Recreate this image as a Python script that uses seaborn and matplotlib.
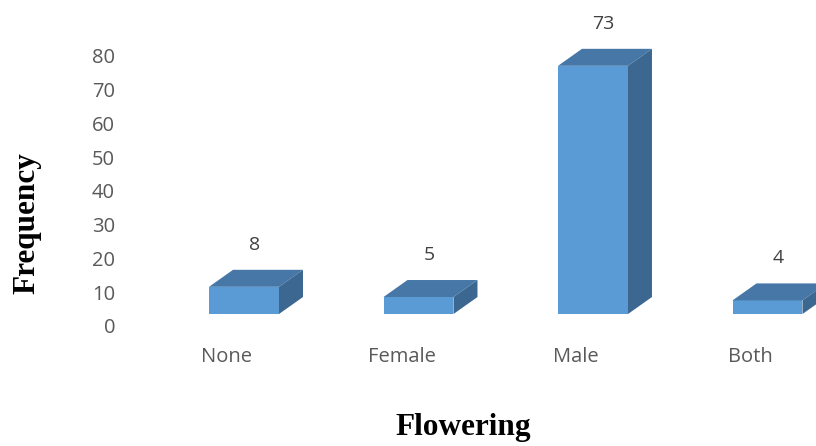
import matplotlib
matplotlib.use("Agg")
import matplotlib.pyplot as plt
from matplotlib.patches import Polygon
import pandas as pd
import seaborn as sns

categories = ["None", "Female", "Male", "Both"]
frequency = [8, 5, 73, 4]
y_ticks = [0, 10, 20, 30, 40, 50, 60, 70, 80]

FRONT = "#5B9BD5"
TOP = "#4677A6"
SIDE = "#3B6790"
TEXT = "#595959"

sns.set_theme(style="white")
plt.rcParams["font.family"] = ["Open Sans", "DejaVu Sans"]

fig = plt.figure(figsize=(8.16, 4.46), dpi=100)
ax = fig.add_axes([0, 0, 1, 1])

df = pd.DataFrame({"Flowering": categories, "Frequency": frequency})
bar_w = 0.401
sns.barplot(data=df, x="Flowering", y="Frequency", color=FRONT, saturation=1,
            width=bar_w, linewidth=0, ax=ax, zorder=3)

# floor of the 3-D box sits a little above the value axis zero
base = 3.82
# depth of each box (in x-category units and y-value units)
dx, dy = 0.1375, 5.0

for patch, v in zip(ax.patches, frequency):
    patch.set_y(base)
    x0 = patch.get_x()
    x1 = x0 + patch.get_width()
    y0 = base
    y1 = base + v
    top = Polygon([(x0, y1), (x1, y1), (x1 + dx, y1 + dy), (x0 + dx, y1 + dy)],
                  closed=True, facecolor=TOP, edgecolor="none", zorder=3)
    side = Polygon([(x1, y0), (x1 + dx, y0 + dy), (x1 + dx, y1 + dy), (x1, y1)],
                   closed=True, facecolor=SIDE, edgecolor="none", zorder=3)
    ax.add_patch(top)
    ax.add_patch(side)
    cx = (x0 + x1) / 2
    ax.text(cx + 0.06, y1 + dy + 7.35, f"{v}", ha="center", va="center",
            fontsize=14, color="#404040")

for i, c in enumerate(categories):
    ax.text(i - 0.0975, -8.8, c, ha="center", va="center", fontsize=14.5, color=TEXT)

for t in y_ticks:
    ax.text(-0.739, t * 0.993 - 0.4, f"{t}", ha="right", va="center", fontsize=14.5,
            color=TEXT)

ax.set_xlim(-1.3983, 3.278)
ax.set_ylim(-35.0, 96.18)
ax.set_axis_off()

fig.text(27 / 816, 1 - 223 / 446, "Frequency", rotation=90, ha="center", va="center",
         fontsize=22.5, fontweight="bold", family=["Liberation Serif", "DejaVu Serif"],
         color="black")
fig.text(463 / 816, 1 - 428 / 446, "Flowering", ha="center", va="center",
         fontsize=22.5, fontweight="bold", family=["Liberation Serif", "DejaVu Serif"],
         color="black")

fig.savefig("out.png", dpi=100, facecolor="white")
